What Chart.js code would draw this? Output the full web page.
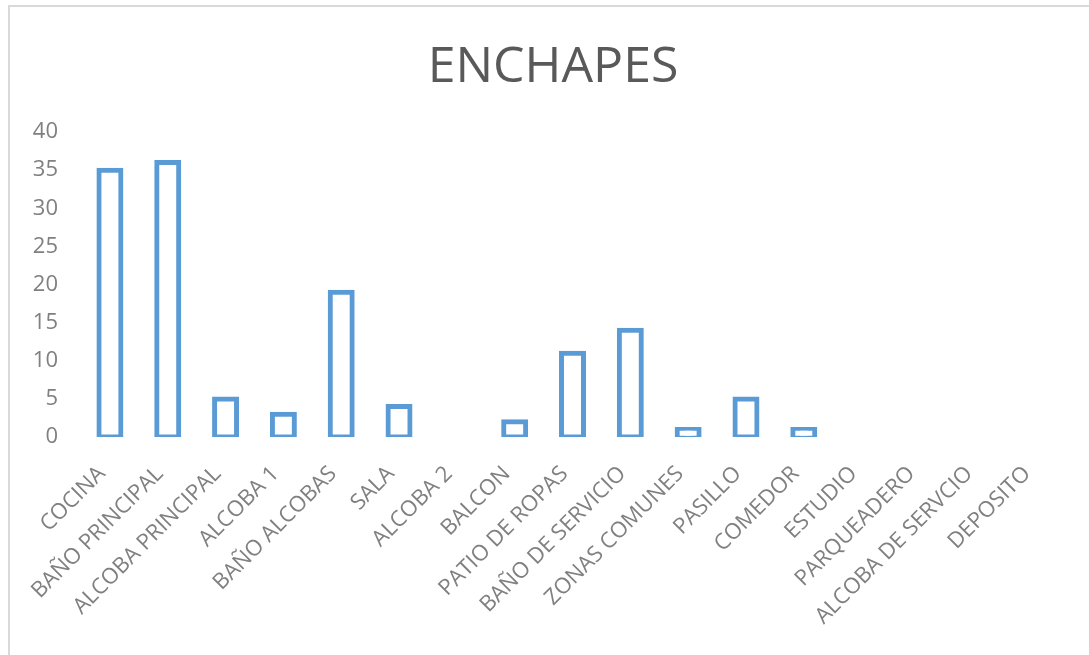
<!DOCTYPE html>
<html>
<head>
<meta charset="utf-8">
<title>ENCHAPES</title>
<script src="https://cdn.jsdelivr.net/npm/chart.js@4/dist/chart.umd.min.js"></script>
<style>
  html, body { margin: 0; padding: 0; background: #ffffff; overflow: hidden; }
  #frame {
    position: absolute; left: 8px; top: 5px; width: 1200px; height: 800px;
    border-left: 2px solid #d9d9d9; border-top: 2px solid #d9d9d9;
  }
  #wrap { position: absolute; left: 0; top: 0; width: 1089px; height: 655px; }
</style>
</head>
<body>
<div id="frame"></div>
<div id="wrap"><canvas id="chart" width="1089" height="655"></canvas></div>
<script>
// Rooms and tiled-surface counts per room
const categories = [
  'COCINA', 'BAÑO PRINCIPAL', 'ALCOBA PRINCIPAL', 'ALCOBA 1', 'BAÑO ALCOBAS',
  'SALA', 'ALCOBA 2', 'BALCON', 'PATIO DE ROPAS', 'BAÑO DE SERVICIO',
  'ZONAS COMUNES', 'PASILLO', 'COMEDOR', 'ESTUDIO', 'PARQUEADERO',
  'ALCOBA DE SERVCIO', 'DEPOSITO'
];
const enchapes = [35, 36, 5, 3, 19, 4, 0, 2, 11, 14, 1, 5, 1, 0, 0, 0, 0];
const yTicks = [0, 5, 10, 15, 20, 25, 30, 35, 40];

const textGray = '#808080';
const barBlue = '#5B9BD5';

new Chart(document.getElementById('chart'), {
  type: 'bar',
  data: {
    labels: categories,
    datasets: [{
      label: 'ENCHAPES',
      data: enchapes,
      yAxisID: 'y',
      backgroundColor: '#ffffff',
      borderColor: barBlue,
      borderWidth: 5,
      borderSkipped: false,
      inflateAmount: 2.5,
      categoryPercentage: 1,
      barPercentage: 0.38
    }]
  },
  options: {
    responsive: false,
    animation: false,
    devicePixelRatio: 1,
    layout: { padding: { left: 17, right: 0, top: 0, bottom: 0 } },
    plugins: {
      legend: { display: false },
      tooltip: { enabled: false },
      title: {
        display: true,
        text: 'ENCHAPES',
        color: '#595959',
        font: { family: '"Open Sans", sans-serif', size: 50, weight: 'normal' },
        padding: { top: 38, bottom: 34 }
      }
    },
    scales: {
      x: {
        grid: { display: false, drawTicks: false },
        border: { display: false },
        ticks: {
          color: textGray,
          font: { family: '"Open Sans", sans-serif', size: 22 },
          maxRotation: 45,
          minRotation: 45,
          autoSkip: false,
          labelOffset: -8,
          padding: 24
        },
        afterFit: (scale) => { scale.height = 218; }
      },
      y: {
        position: 'left',
        min: 0,
        max: 40,
        afterBuildTicks: (scale) => { scale.ticks = yTicks.map(v => ({ value: v })); },
        grid: { display: false, drawTicks: false },
        border: { display: false },
        ticks: {
          color: textGray,
          font: { family: '"Open Sans", sans-serif', size: 22 },
          padding: 23
        },
        afterFit: (scale) => { scale.width = 64; }
      },
      // empty right-hand margin column
      yRight: {
        position: 'right',
        min: 0,
        max: 40,
        grid: { display: false, drawTicks: false },
        border: { display: false },
        ticks: { display: false },
        afterFit: (scale) => { scale.width = 25; }
      }
    }
  }
});
</script>
</body>
</html>
